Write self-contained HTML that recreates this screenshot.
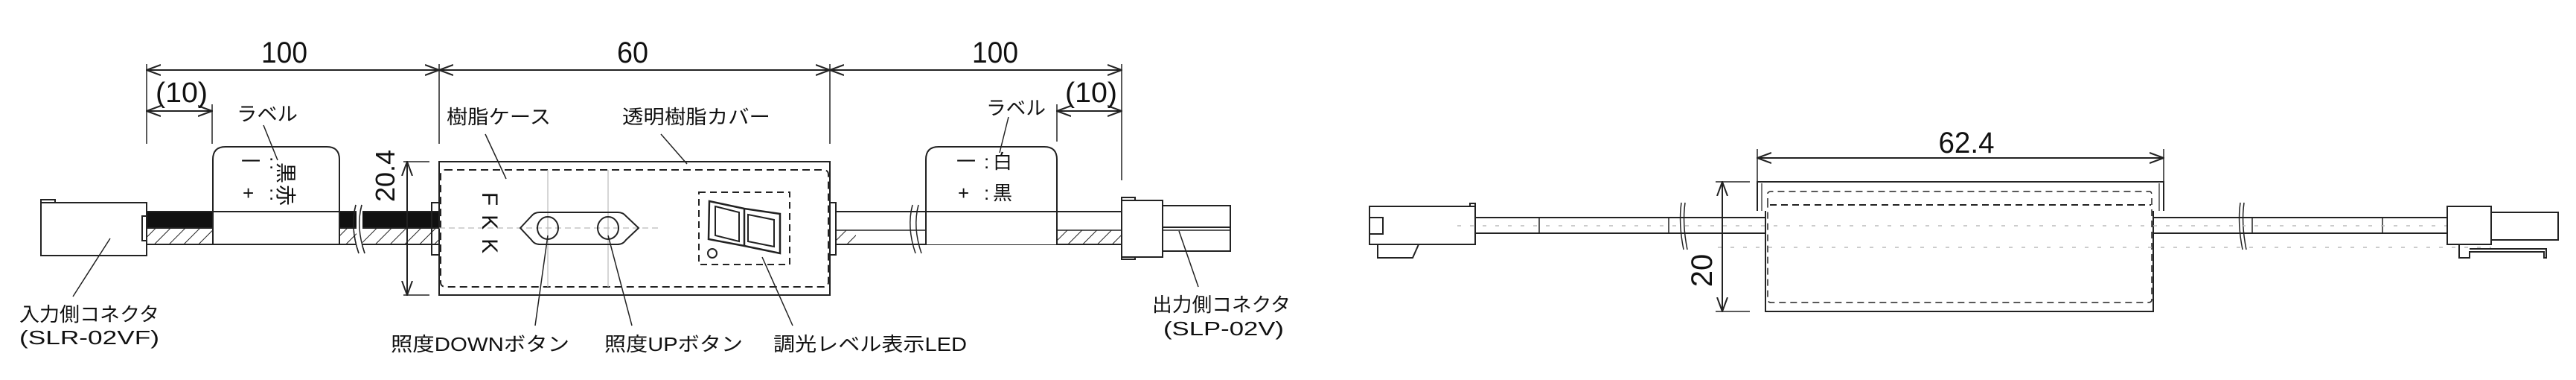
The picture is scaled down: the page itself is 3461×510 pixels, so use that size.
<!DOCTYPE html>
<html><head><meta charset="utf-8"><style>
html,body{margin:0;padding:0;background:#fff;}
svg{display:block;}
text{font-family:"Liberation Sans","Noto Sans CJK JP",sans-serif;fill:#111;}
</style></head><body>
<svg width="3461" height="510" viewBox="0 0 3461 510" xmlns="http://www.w3.org/2000/svg">
<defs>
<pattern id="h" width="14" height="14" patternUnits="userSpaceOnUse" patternTransform="rotate(45)">
<line x1="0" y1="0" x2="0" y2="14" stroke="#222" stroke-width="2"/>
</pattern>
<marker id="a" viewBox="0 0 20 20" refX="19" refY="10" markerWidth="20" markerHeight="20" orient="auto-start-reverse" markerUnits="userSpaceOnUse">
<path d="M0,3 L19,10 L0,17" fill="none" stroke="#222" stroke-width="2"/>
</marker>
</defs>
<g stroke="#222" stroke-width="2" fill="none">
<!-- dimension lines top -->
<line x1="197" y1="94" x2="590" y2="94" marker-start="url(#a)" marker-end="url(#a)"/>
<line x1="590" y1="94" x2="1115" y2="94" marker-start="url(#a)" marker-end="url(#a)"/>
<line x1="1115" y1="94" x2="1507" y2="94" marker-start="url(#a)" marker-end="url(#a)"/>
<line x1="197" y1="149" x2="285" y2="149" marker-start="url(#a)" marker-end="url(#a)"/>
<line x1="1420" y1="149" x2="1507" y2="149" marker-start="url(#a)" marker-end="url(#a)"/>
<line x1="197" y1="86" x2="197" y2="193" stroke-width="1.5"/>
<line x1="285" y1="140" x2="285" y2="193" stroke-width="1.5"/>
<line x1="590" y1="86" x2="590" y2="193" stroke-width="1.5"/>
<line x1="1115" y1="86" x2="1115" y2="193" stroke-width="1.5"/>
<line x1="1507" y1="86" x2="1507" y2="242" stroke-width="1.5"/>
<line x1="1420" y1="140" x2="1420" y2="190" stroke-width="1.5"/>

<!-- left connector -->
<rect x="55" y="272" width="142" height="71" fill="#fff"/>
<rect x="55" y="268" width="19" height="4"/>
<rect x="191" y="290" width="6" height="33"/>
<!-- left cable -->
<rect x="197" y="284" width="393" height="22" fill="#111"/>
<rect x="197" y="306" width="393" height="22" fill="url(#h)"/>
<line x1="197" y1="328" x2="590" y2="328"/>
<!-- left label tab -->
<path d="M286,328 V214 Q286,197 303,197 H439 Q456,197 456,214 V328 Z" fill="#fff"/>
<line x1="286" y1="284" x2="456" y2="284"/>
<!-- break -->
<path d="M478,275 Q470,305 482,340 M486,275 Q478,305 490,340" stroke-width="1.5" fill="none"/>
<rect x="479" y="283" width="8" height="46" fill="#fff" stroke="none"/>
<path d="M478,275 Q470,305 482,340 M486,275 Q478,305 490,340" stroke-width="1.5"/>
<!-- 20.4 dim -->
<line x1="547" y1="217" x2="547" y2="396" marker-start="url(#a)" marker-end="url(#a)"/>
<line x1="542" y1="217" x2="577" y2="217" stroke-width="1.5"/>
<line x1="542" y1="396" x2="577" y2="396" stroke-width="1.5"/>
<!-- case -->
<rect x="580" y="272" width="10" height="70"/>
<rect x="590" y="217" width="525" height="179" fill="#fff"/>
<rect x="592" y="228" width="521" height="157" rx="6" stroke-dasharray="10,6"/>
<rect x="1115" y="272" width="8" height="70"/>
<line x1="736" y1="228" x2="736" y2="385" stroke="#bbb" stroke-width="1.2"/>
<line x1="817" y1="228" x2="817" y2="385" stroke="#bbb" stroke-width="1.2"/>
<line x1="590" y1="306" x2="885" y2="306" stroke="#bbb" stroke-width="1.2" stroke-dasharray="8,5"/>
<!-- buttons -->
<path d="M699,306 L714,290 Q718,285 725,285 H830 Q837,285 841,290 L858,306 L841,322 Q837,328 830,328 H725 Q718,328 714,322 Z" fill="none"/>
<ellipse cx="736" cy="306" rx="14" ry="15"/>
<ellipse cx="817" cy="306" rx="14" ry="15"/>
<!-- LED -->
<rect x="939" y="258" width="122" height="97" stroke-dasharray="9,6"/>
<path d="M953,270 L1000,280 L1048,287 L1048,340 L1000,330 L952,321 Z" stroke-width="2.5"/>
<path d="M961,277 L993,285 L993,324 L961,316 Z"/>
<path d="M1005,288 L1040,295 L1040,331 L1005,324 Z"/>
<line x1="1000" y1="280" x2="1000" y2="330" stroke-width="2.5"/>
<circle cx="957" cy="340" r="6"/>
<!-- right cable -->
<line x1="1123" y1="284" x2="1507" y2="284"/>
<line x1="1123" y1="328" x2="1507" y2="328"/>
<rect x="1123" y="309" width="27" height="19" fill="url(#h)" stroke="none"/>
<rect x="1420" y="309" width="87" height="19" fill="url(#h)" stroke="none"/>
<line x1="1123" y1="309" x2="1507" y2="309" stroke-width="1.5"/>
<path d="M1226,275 Q1218,305 1230,340 M1234,275 Q1226,305 1238,340" stroke-width="1.5"/>
<path d="M1244,328 V214 Q1244,197 1261,197 H1403 Q1420,197 1420,214 V328" fill="#fff"/>
<line x1="1244" y1="284" x2="1420" y2="284"/>
<!-- right connector -->
<rect x="1507" y="269" width="55" height="76" fill="#fff"/>
<rect x="1507" y="265" width="18" height="4"/>
<rect x="1507" y="345" width="18" height="3"/>
<rect x="1562" y="276" width="91" height="61" fill="#fff"/>
<line x1="1562" y1="305" x2="1653" y2="305"/>
<line x1="1562" y1="309" x2="1653" y2="309" stroke-width="1.5"/>

<!-- leaders -->
<line x1="354" y1="168" x2="373" y2="215" stroke-width="1.5"/>
<line x1="652" y1="180" x2="680" y2="240" stroke-width="1.5"/>
<line x1="888" y1="180" x2="923" y2="220" stroke-width="1.5"/>
<line x1="148" y1="320" x2="98" y2="398" stroke-width="1.5"/>
<line x1="736" y1="316" x2="719" y2="437" stroke-width="1.5"/>
<line x1="817" y1="316" x2="849" y2="437" stroke-width="1.5"/>
<line x1="1024" y1="345" x2="1065" y2="437" stroke-width="1.5"/>
<line x1="1584" y1="310" x2="1610" y2="385" stroke-width="1.5"/>
<line x1="1355" y1="157" x2="1343" y2="205" stroke-width="1.5"/>

<!-- second view -->
<line x1="2361" y1="212" x2="2907" y2="212" marker-start="url(#a)" marker-end="url(#a)"/>
<line x1="2361" y1="200" x2="2361" y2="244" stroke-width="1.5"/>
<line x1="2907" y1="200" x2="2907" y2="244" stroke-width="1.5"/>
<line x1="2314" y1="244" x2="2314" y2="418" marker-start="url(#a)" marker-end="url(#a)"/>
<line x1="2305" y1="244" x2="2351" y2="244" stroke-width="1.5"/>
<line x1="2305" y1="418" x2="2351" y2="418" stroke-width="1.5"/>
<!-- left conn -->
<rect x="1840" y="277" width="142" height="51"/>
<rect x="1840" y="292" width="18" height="22"/>
<path d="M1851,328 V346 H1898 L1906,328"/>
<rect x="1975" y="273" width="7" height="4"/>
<!-- cables -->
<line x1="1982" y1="292" x2="2372" y2="292"/>
<line x1="1982" y1="313" x2="2372" y2="313"/>
<line x1="2068" y1="292" x2="2068" y2="313" stroke-width="1.5"/>
<line x1="2242" y1="292" x2="2242" y2="313" stroke-width="1.5"/>
<path d="M2259,272 Q2255,300 2262,335 M2264,272 Q2260,300 2267,335" stroke-width="1.5"/>
<line x1="2893" y1="292" x2="3288" y2="292"/>
<line x1="2893" y1="313" x2="3288" y2="313"/>
<line x1="3026" y1="292" x2="3026" y2="313" stroke-width="1.5"/>
<line x1="3201" y1="292" x2="3201" y2="313" stroke-width="1.5"/>
<path d="M3010,272 Q3006,300 3013,335 M3015,272 Q3011,300 3018,335" stroke-width="1.5"/>
<!-- body -->
<path d="M2361,283 V244 H2907 V283" stroke-width="2"/>
<line x1="2367" y1="246" x2="2367" y2="283" stroke-width="1.2"/>
<line x1="2901" y1="246" x2="2901" y2="283" stroke-width="1.2"/>
<path d="M2372,283 V418 H2893 V283" fill="#fff"/>
<path d="M2375,275 V260 Q2375,257 2380,257 H2888 Q2891,257 2891,262 V402 Q2891,406 2886,406 H2380 Q2375,406 2375,402 Z" stroke-dasharray="9,6" stroke-width="1.5"/>
<line x1="2378" y1="275" x2="2890" y2="275" stroke-dasharray="9,6" stroke-width="2"/>
<line x1="1958" y1="303" x2="3347" y2="303" stroke="#bbb" stroke-width="1.5" stroke-dasharray="5,12"/>
<line x1="2308" y1="332" x2="3347" y2="332" stroke="#bbb" stroke-width="1.5" stroke-dasharray="5,12"/>
<!-- right conn -->
<rect x="3288" y="277" width="59" height="51" fill="#fff"/>
<rect x="3347" y="285" width="90" height="37"/>
<path d="M3304,328 V346 H3318 V338 H3418 V346 H3421 V334 H3318"/>
</g>

<!-- texts -->
<g font-size="40">
<text x="382" y="84" text-anchor="middle" textLength="62" lengthAdjust="spacingAndGlyphs">100</text>
<text x="850" y="84" text-anchor="middle" textLength="42" lengthAdjust="spacingAndGlyphs">60</text>
<text x="1337" y="84" text-anchor="middle" textLength="62" lengthAdjust="spacingAndGlyphs">100</text>
<text x="2642" y="205" text-anchor="middle" textLength="75" lengthAdjust="spacingAndGlyphs">62.4</text>
</g>
<g font-size="38">
<text x="244" y="137" text-anchor="middle" textLength="70" lengthAdjust="spacingAndGlyphs">(10)</text>
<text x="1466" y="137" text-anchor="middle" textLength="70" lengthAdjust="spacingAndGlyphs">(10)</text>
</g>
<text transform="translate(530,236) rotate(-90)" font-size="36" text-anchor="middle">20.4</text>
<text transform="translate(2300,363) rotate(-90)" font-size="40" text-anchor="middle">20</text>
<text transform="translate(648,305) rotate(90)" font-size="30" text-anchor="middle" letter-spacing="12">FKK</text>
<g font-size="26">
<text x="318" y="162" textLength="82" lengthAdjust="spacingAndGlyphs">ラベル</text>
<text x="1325" y="154" textLength="80" lengthAdjust="spacingAndGlyphs">ラベル</text>
<text x="600" y="166" textLength="140" lengthAdjust="spacingAndGlyphs">樹脂ケース</text>
<text x="836" y="166" textLength="199" lengthAdjust="spacingAndGlyphs">透明樹脂カバー</text>
<text x="26" y="431" textLength="188" lengthAdjust="spacingAndGlyphs">入力側コネクタ</text>
<text x="26" y="462" textLength="188" lengthAdjust="spacingAndGlyphs">(SLR-02VF)</text>
<text x="1548" y="418" textLength="186" lengthAdjust="spacingAndGlyphs">出力側コネクタ</text>
<text x="1563" y="450" textLength="162" lengthAdjust="spacingAndGlyphs">(SLP-02V)</text>
<text x="525" y="471" textLength="240" lengthAdjust="spacingAndGlyphs">照度DOWNボタン</text>
<text x="812" y="471" textLength="186" lengthAdjust="spacingAndGlyphs">照度UPボタン</text>
<text x="1039" y="471" textLength="260" lengthAdjust="spacingAndGlyphs">調光レベル表示LED</text>
</g>
<g font-size="26">
<text x="324" y="226">一</text><text x="326" y="268">+</text>
<text x="361" y="226">:</text><text x="361" y="268">:</text>
<text transform="translate(374,218) rotate(90)" font-size="28">黒</text>
<text transform="translate(374,248) rotate(90)" font-size="28">赤</text>
<text x="1285" y="226">一</text><text x="1287" y="268">+</text>
<text x="1322" y="226">:</text><text x="1322" y="268">:</text>
<text x="1334" y="226">白</text><text x="1334" y="268">黒</text>
</g>
</svg>
</body></html>
